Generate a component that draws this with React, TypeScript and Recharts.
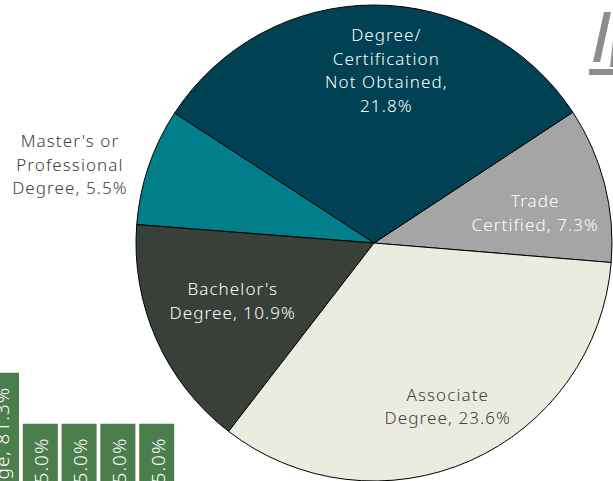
import React from 'react';
import { PieChart, Pie, Cell, BarChart, Bar, XAxis, YAxis, LabelList } from 'recharts';

// main pie: share of respondents by credential
const categories = [
  'Trade Certified',
  'Degree/Certification Not Obtained',
  "Master's or Professional Degree",
  "Bachelor's Degree",
  'Associate Degree',
];
const shares = [7.3, 21.8, 5.5, 10.9, 23.6];
const labelLines = [
  ['Trade', 'Certified, 7.3%'],
  ['Degree/', 'Certification', 'Not Obtained,', '21.8%'],
  ["Master's or", 'Professional', 'Degree, 5.5%'],
  ["Bachelor's", 'Degree, 10.9%'],
  ['Associate', 'Degree, 23.6%'],
];
const sliceColors = ['#a5a5a5', '#004254', '#007f8a', '#394039', '#ecebe0'];
const labelColors = ['#ffffff', '#ffffff', '#404040', '#ffffff', '#404040'];

// fragment of the neighbouring column chart (cut by the frame)
const sideBarLabels = ['ge, 81.3%', '5.0%', '5.0%', '5.0%', '5.0%'];
const sideBarValues = [81.3, 5.0, 5.0, 5.0, 5.0];

const pieData = categories.map((name, i) => ({ name, value: shares[i] }));
const sideData = sideBarValues.map((value, i) => ({ key: `c${i}`, value, label: sideBarLabels[i] }));

const FONT = '"Noto Sans", sans-serif';
const RADIAN = Math.PI / 180;
const labelRadius = [0.69, 0.73, 1.32, 0.64, 0.75];
const labelTurn = [-3.4, -4.2, 4.2, -2, 0.6];
const LINE_H = 23.5;

const renderPieLabel = (props: any) => {
  const { cx, cy, midAngle, outerRadius, index } = props;
  const a = (midAngle + labelTurn[index]) * RADIAN;
  const r = outerRadius * labelRadius[index];
  const x = cx + r * Math.cos(a);
  const y = cy - r * Math.sin(a);
  const lines = labelLines[index];
  const y0 = y - ((lines.length - 1) * LINE_H) / 2;
  return (
    <text
      x={x}
      y={y0}
      textAnchor="middle"
      dominantBaseline="central"
      fill={labelColors[index]}
      fontSize={17}
      fontWeight={300}
      letterSpacing={1.1}
      fontFamily={FONT}
    >
      {lines.map((line, i) => (
        <tspan key={i} x={x} y={y0 + i * LINE_H}>
          {line}
        </tspan>
      ))}
    </text>
  );
};

const renderBarLabel = (props: any) => {
  const { x, y, width, value } = props;
  const cx = x + width / 2 + 1;
  const ty = y + 14;
  return (
    <text
      x={cx}
      y={ty}
      transform={`rotate(-90 ${cx} ${ty})`}
      textAnchor="end"
      dominantBaseline="central"
      fill="#ffffff"
      fontSize={19}
      fontWeight={300}
      letterSpacing={1}
      fontFamily={FONT}
    >
      {value}
    </text>
  );
};

export default function App() {
  return (
    <div
      style={{
        position: 'absolute',
        left: 0,
        top: 0,
        width: 613,
        height: 481,
        overflow: 'hidden',
        background: '#ffffff',
      }}
    >
      <div style={{ position: 'absolute', left: -18, top: 369 }}>
        <BarChart width={194} height={126} data={sideData} margin={{ top: 0, right: 0, bottom: 0, left: 0 }} barCategoryGap={2}>
          <XAxis dataKey="key" hide />
          <YAxis hide scale="log" domain={[0.1, 100]} allowDataOverflow />
          <Bar dataKey="value" fill="#4a7e4c" isAnimationActive={false}>
            <LabelList dataKey="label" content={renderBarLabel} />
          </Bar>
        </BarChart>
      </div>

      <svg style={{ position: 'absolute', left: 580, top: 0 }} width={33} height={90}>
        <polygon points="13,62 20,62 31,12 24,12" fill="#8c8c8c" />
        <polygon points="30,67 33,67 33,40" fill="#8c8c8c" />
        <rect x={9} y={69} width={24} height={6} fill="#8c8c8c" />
      </svg>

      <div style={{ position: 'absolute', left: 0, top: 0 }}>
        <PieChart width={613} height={481} margin={{ top: 0, right: 0, bottom: 0, left: 0 }}>
          <Pie
            data={pieData}
            dataKey="value"
            nameKey="name"
            cx={374}
            cy={243}
            outerRadius={238}
            startAngle={-4.7}
            endAngle={355.3}
            stroke="#000000"
            strokeWidth={1}
            label={renderPieLabel}
            labelLine={false}
            isAnimationActive={false}
          >
            {pieData.map((d, i) => (
              <Cell key={d.name} fill={sliceColors[i]} />
            ))}
          </Pie>
        </PieChart>
      </div>
    </div>
  );
}
